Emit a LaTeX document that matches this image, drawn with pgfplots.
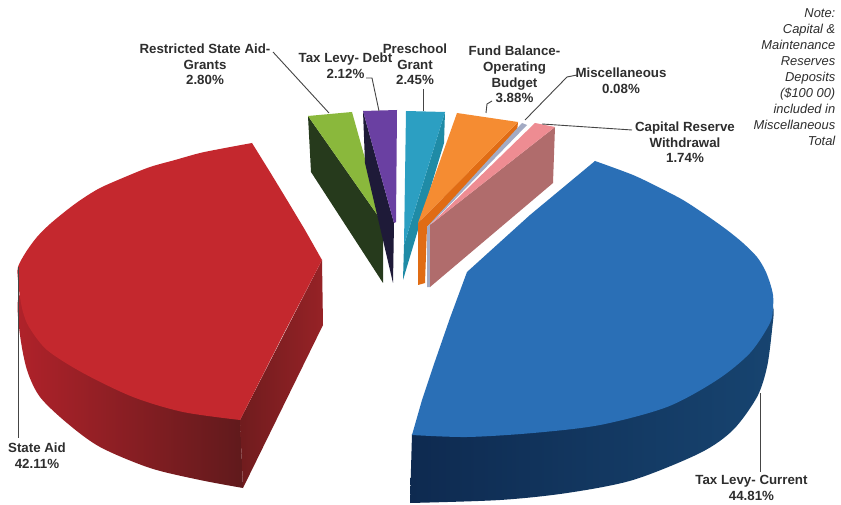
\documentclass[border=0pt]{standalone}
\usepackage{pgfplots}
\pgfplotsset{compat=1.18}
\usepackage{fontspec}
\setmainfont{Liberation Sans}
\definecolor{txt}{HTML}{2E2E2E}
\definecolor{lead}{HTML}{454545}
\definecolor{redtop}{HTML}{C4282E}
\definecolor{redwallA}{HTML}{B0222A}
\definecolor{redwallM}{HTML}{8C2024}
\definecolor{redwallB}{HTML}{601A1C}
\definecolor{redcutA}{HTML}{701C1E}
\definecolor{redcutB}{HTML}{962226}
\definecolor{bluetop}{HTML}{2A6FB6}
\definecolor{bluewallA}{HTML}{0E2A50}
\definecolor{bluewallB}{HTML}{174470}
\definecolor{greentop}{HTML}{8AB83C}
\definecolor{greenside}{HTML}{263A1C}
\definecolor{purpletop}{HTML}{6A40A2}
\definecolor{purpleside}{HTML}{1E1A38}
\definecolor{tealtop}{HTML}{2C9FC2}
\definecolor{tealside}{HTML}{1F8BA6}
\definecolor{orangetop}{HTML}{F58C32}
\definecolor{orangeside}{HTML}{E06C14}
\definecolor{sliver}{HTML}{A3ABC4}
\definecolor{pinktop}{HTML}{EE8C92}
\definecolor{pinkside}{HTML}{B06C6C}
\tikzset{lab/.style={font=\fontsize{13.3}{15.6}\selectfont\bfseries, text=txt, align=center, inner sep=0pt}}
\begin{document}
\begin{tikzpicture}
\begin{axis}[
  scale only axis, width=841pt, height=505pt,
  xmin=0, xmax=841, ymin=0, ymax=505, y dir=reverse,
  hide axis, clip=true,
  every axis plot/.append style={forget plot},
]
% white sheet that fixes the extent of the picture
\addplot[draw=none, fill=white] coordinates {(0,0)(841,0)(841,505)(0,505)} -- cycle;
% State Aid: outer wall, cut face, then the top face as rim plus inner polygon
\addplot[draw=none, smooth, tension=0.5, left color=redwallA, middle color=redwallM, right color=redwallB] coordinates {
 (243,488)(200,480)(150,468)(100,447)(67,423)(40,397)(27,370)(20,335)(18,300)(30,285)(60,300)(100,340)(160,380)(225,405)(240,418)} -- cycle;
\addplot[draw=none, left color=redcutA, right color=redcutB] coordinates {
 (240,420)(322,260)(323,325)(243,488)} -- cycle;
\addplot[draw=none, smooth, tension=0.5, fill=redtop] coordinates {
 (252,143)(225,148)(200,153)(175,160)(150,167)(125,177)(100,188)(82,199)(67,210)(50,224)(37,237)(26,252)(18,267)
 (18,280)(20,297)(23,312)(29,327)(47,350)(83,373)(133,397)(183,412)(240,420)} -- cycle;
\addplot[draw=none, fill=redtop] coordinates {(252,143)(270,172)(287,200)(305,230)(322,260)(283,335)(240,420)(150,300)} -- cycle;
% Tax Levy- Current
\addplot[draw=none, smooth, tension=0.5, left color=bluewallA, right color=bluewallB] coordinates {
 (410,503)(500,500)(567,493)(633,480)(700,453)(733,430)(757,397)(767,367)(772,330)(773,307)(760,300)(717,370)(667,400)(600,415)(533,425)(467,430)(412,434)} -- cycle;
\addplot[draw=none, smooth, tension=0.5, fill=bluetop] coordinates {
 (595,161)(633,175)(660,188)(683,200)(706,215)(727,230)(743,243)(757,257)(765,270)(770,283)(773,295)(773,307)(770,323)
 (750,353)(717,380)(667,407)(600,425)(533,433)(467,437)(412,435)} -- cycle;
\addplot[draw=none, fill=bluetop] coordinates {(412,435)(422,400)(433,367)(450,318)(467,272)(530,215)(595,161)(600,300)} -- cycle;
% Restricted State Aid- Grants
\addplot[draw=none, fill=greenside] coordinates {(308,116)(383,223)(383,283)(311,172)} -- cycle;
\addplot[draw=none, fill=greentop] coordinates {(308,116)(352,112)(383,223)} -- cycle;
% Tax Levy- Debt
\addplot[draw=none, fill=purpleside] coordinates {(363,111)(365,163)(393,283)(394,223)} -- cycle;
\addplot[draw=none, fill=purpletop] coordinates {(363,111)(397,110)(396,222)(394,223)} -- cycle;
% Preschool Grant
\addplot[draw=none, fill=tealside] coordinates {(445,112)(444,143)(403,280)(404,245)} -- cycle;
\addplot[draw=none, fill=tealtop] coordinates {(406,111)(445,112)(404,245)} -- cycle;
% Fund Balance- Operating Budget
\addplot[draw=none, fill=orangeside] coordinates {(518,122)(517,132)(427,227)(425,283)(418,285)(418,223)} -- cycle;
\addplot[draw=none, fill=orangetop] coordinates {(457,113)(518,122)(418,223)} -- cycle;
% Miscellaneous
\addplot[draw=none, fill=sliver] coordinates {(522,123)(527,125)(431,224)(430,287)(427,287)(427,227)} -- cycle;
% Capital Reserve Withdrawal
\addplot[draw=none, fill=pinkside] coordinates {(555,127)(553,183)(430,287)(430,225)} -- cycle;
\addplot[draw=none, fill=pinktop] coordinates {(535,123)(555,127)(430,225)} -- cycle;
% leader lines
\addplot[draw=lead, line width=0.9pt] coordinates {(18,267)(18,438)};
\addplot[draw=lead, line width=0.9pt] coordinates {(760,393)(760,472)};
\addplot[draw=lead, line width=0.9pt] coordinates {(273,52)(329,113)};
\addplot[draw=lead, line width=0.9pt] coordinates {(366,78)(372,78)(379,111)};
\addplot[draw=lead, line width=0.9pt] coordinates {(423,89)(423,111)};
\addplot[draw=lead, line width=0.9pt] coordinates {(492,101)(487,104)(486,113)};
\addplot[draw=lead, line width=0.9pt] coordinates {(577,75)(567,77)(525,120)};
\addplot[draw=lead, line width=0.9pt] coordinates {(542,124)(632,130)};
% labels
\node[lab] at (axis cs:205,64.5) {Restricted State Aid-\\Grants\\2.80\%};
\node[lab] at (axis cs:345.5,66) {Tax Levy- Debt\\2.12\%};
\node[lab] at (axis cs:415,64.5) {Preschool\\Grant\\2.45\%};
\node[lab] at (axis cs:514.5,74.5) {Fund Balance-\\Operating\\Budget\\3.88\%};
\node[lab] at (axis cs:621,80.5) {Miscellaneous\\0.08\%};
\node[lab] at (axis cs:685,142.5) {Capital Reserve\\Withdrawal\\1.74\%};
\node[lab] at (axis cs:37,455.5) {State Aid\\42.11\%};
\node[lab] at (axis cs:751.5,488) {Tax Levy- Current\\44.81\%};
\node[font=\fontsize{12.9}{16}\selectfont\itshape, text=txt, align=right, inner sep=0pt, anchor=north east] at (axis cs:835.5,8)
 {Note:\\Capital \&\\Maintenance\\Reserves\\Deposits\\(\$100 00)\\included in\\Miscellaneous\\Total};
\end{axis}
\end{tikzpicture}
\end{document}
